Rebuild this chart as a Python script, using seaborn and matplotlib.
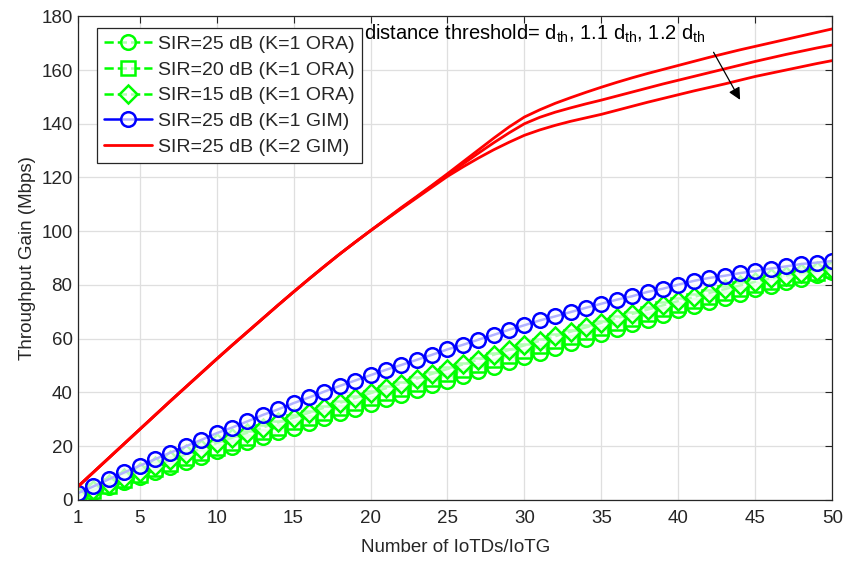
# -*- coding: utf-8 -*-

### Throughput gain vs number of IoTDs per IoTG ###

import seaborn as sns
import matplotlib
matplotlib.use("Agg")
import matplotlib.pyplot as plt
import numpy as np

sns.set_style('white')
plt.rcParams['font.family'] = ['Liberation Sans', 'DejaVu Sans']
plt.rcParams['mathtext.default'] = 'regular'

## Data ##

n_iotd = list(range(1, 51))

ora_sir25 = [0.8, 2.8, 4.7, 6.6, 8.5, 10.4, 12.3, 14.2, 16.1, 18.0,
             19.8, 21.6, 23.4, 25.2, 26.9, 28.7, 30.5, 32.2, 34.0, 35.7,
             37.4, 39.2, 40.9, 42.6, 44.4, 46.1, 47.9, 49.6, 51.3, 53.0,
             54.8, 56.5, 58.3, 60.0, 61.8, 63.5, 65.3, 67.0, 68.8, 70.5,
             72.1, 73.7, 75.2, 76.8, 78.3, 79.7, 81.0, 82.3, 83.6, 84.8]

ora_sir20 = [1.2, 3.3, 5.3, 7.4, 9.4, 11.4, 13.4, 15.4, 17.4, 19.4,
             21.3, 23.2, 25.1, 26.9, 28.8, 30.6, 32.4, 34.2, 36.0, 37.8,
             39.6, 41.3, 43.1, 44.9, 46.7, 48.4, 50.2, 52.0, 53.7, 55.5,
             57.2, 59.0, 60.7, 62.4, 64.1, 65.8, 67.5, 69.2, 70.9, 72.5,
             74.0, 75.5, 77.0, 78.4, 79.8, 81.1, 82.4, 83.6, 84.6, 85.5]

ora_sir15 = [1.5, 3.8, 6.0, 8.2, 10.4, 12.6, 14.8, 16.9, 19.1, 21.2,
             23.1, 25.0, 26.9, 28.8, 30.6, 32.4, 34.3, 36.1, 37.9, 39.7,
             41.5, 43.3, 45.1, 46.9, 48.7, 50.4, 52.2, 54.0, 55.8, 57.5,
             59.2, 60.9, 62.6, 64.2, 65.9, 67.6, 69.2, 70.8, 72.4, 74.0,
             75.5, 77.0, 78.4, 79.8, 81.2, 82.4, 83.5, 84.5, 85.3, 86.0]

gim_k1 = [2.5, 5.0, 7.7, 10.2, 12.7, 15.1, 17.6, 19.9, 22.3, 24.8,
          26.9, 29.2, 31.6, 33.7, 36.0, 38.1, 40.3, 42.4, 44.4, 46.4,
          48.4, 50.2, 52.1, 54.0, 56.0, 57.7, 59.6, 61.4, 63.3, 65.0,
          66.8, 68.3, 69.9, 71.5, 73.0, 74.5, 75.8, 77.4, 78.6, 80.1,
          81.5, 82.6, 83.4, 84.4, 85.2, 86.1, 86.9, 87.8, 88.3, 88.9]

gim_k2_dth = [5.0, 10.3, 15.6, 20.9, 26.2, 31.5, 36.8, 42.0, 47.2, 52.4,
              57.5, 62.5, 67.5, 72.5, 77.4, 82.2, 86.9, 91.5, 95.9, 100.2,
              104.5, 108.8, 112.9, 117.1, 121.4, 125.8, 130.2, 134.6, 138.8, 142.5,
              145.2, 147.6, 149.7, 151.7, 153.6, 155.4, 157.1, 158.7, 160.2, 161.7,
              163.2, 164.7, 166.1, 167.5, 168.8, 170.1, 171.4, 172.7, 174.0, 175.3]

gim_k2_11dth = [5.0, 10.3, 15.6, 20.9, 26.2, 31.5, 36.8, 42.0, 47.2, 52.4,
                57.5, 62.5, 67.5, 72.5, 77.4, 82.2, 86.9, 91.5, 95.9, 100.2,
                104.4, 108.6, 112.7, 116.9, 121.0, 125.0, 129.0, 132.9, 136.6, 140.0,
                142.4, 144.3, 145.9, 147.4, 148.8, 150.3, 151.8, 153.3, 154.8, 156.2,
                157.6, 159.0, 160.4, 161.8, 163.2, 164.5, 165.8, 167.0, 168.2, 169.3]

gim_k2_12dth = [5.0, 10.3, 15.6, 20.9, 26.2, 31.5, 36.8, 42.0, 47.2, 52.4,
                57.5, 62.5, 67.5, 72.5, 77.4, 82.2, 86.9, 91.5, 95.9, 100.2,
                104.3, 108.4, 112.4, 116.4, 120.4, 123.9, 127.2, 130.3, 133.1, 135.7,
                137.7, 139.4, 140.9, 142.2, 143.5, 145.0, 146.5, 148.0, 149.4, 150.8,
                152.2, 153.5, 154.8, 156.2, 157.6, 158.8, 160.0, 161.2, 162.4, 163.5]

x_ticks = [1, 5, 10, 15, 20, 25, 30, 35, 40, 45, 50]
y_ticks = list(range(0, 181, 20))

## Colors ##
green = '#00FF00'
blue = '#0000FF'
red = '#FF0000'
face = (1, 1, 1, 0.7)

## Plot ##
fig, ax = plt.subplots(figsize=(8.58, 5.61), dpi=100)
fig.subplots_adjust(left=0.091, right=0.970, top=0.971, bottom=0.109)

mk = dict(markersize=10.5, markeredgewidth=1.8, markerfacecolor=face, linewidth=1.8)

sns.lineplot(x=n_iotd, y=ora_sir25, ax=ax, color=green, marker='o', linestyle='--',
             markeredgecolor=green, label='SIR=25 dB (K=1 ORA)', **mk)
sns.lineplot(x=n_iotd, y=ora_sir20, ax=ax, color=green, marker='s', linestyle='--',
             markeredgecolor=green, label='SIR=20 dB (K=1 ORA)', **mk)
sns.lineplot(x=n_iotd, y=ora_sir15, ax=ax, color=green, marker='D', linestyle='--',
             markeredgecolor=green, label='SIR=15 dB (K=1 ORA)', **mk)
sns.lineplot(x=n_iotd, y=gim_k1, ax=ax, color=blue, marker='o',
             markeredgecolor=blue, label='SIR=25 dB (K=1 GIM)', **mk)
sns.lineplot(x=n_iotd, y=gim_k2_dth, ax=ax, color=red, linewidth=2.0,
             label='SIR=25 dB (K=2 GIM)')
sns.lineplot(x=n_iotd, y=gim_k2_11dth, ax=ax, color=red, linewidth=2.0)
sns.lineplot(x=n_iotd, y=gim_k2_12dth, ax=ax, color=red, linewidth=2.0)

# diamonds a bit smaller than circles
ax.lines[2].set_markersize(9.5)

ax.set_xlim(1, 50)
ax.set_ylim(0, 180)
ax.set_xticks(x_ticks)
ax.set_yticks(y_ticks)
ax.grid(True, color='#DFDFDF', linewidth=0.9)
ax.set_axisbelow(True)
ax.tick_params(direction='in', length=5, width=0.8, top=True, right=True,
               labelsize=13.5, colors='#262626')
ax.tick_params(axis='x', pad=7)
ax.tick_params(axis='y', pad=4)
for s in ax.spines.values():
    s.set_color('#262626')
    s.set_linewidth(0.9)

ax.set_xlabel('Number of IoTDs/IoTG', fontsize=13.5, color='#262626', labelpad=9)
ax.set_ylabel('Throughput Gain (Mbps)', fontsize=13.5, color='#262626', labelpad=4)

ax.text(19.6, 173.6, 'distance threshold= d$_{th}$, 1.1 d$_{th}$, 1.2 d$_{th}$',
        fontsize=14.5, color='black', va='center', ha='left')
ax.annotate('', xy=(44.1, 148.0), xytext=(42.2, 167.5),
            arrowprops=dict(arrowstyle='-|>', color='black', lw=0.9,
                            mutation_scale=18))

leg = ax.legend(loc='upper left', bbox_to_anchor=(0.025, 0.975), fontsize=14,
                frameon=True, fancybox=False, edgecolor='#262626', framealpha=1,
                handlelength=2.5, handletextpad=0.3, borderpad=0.35,
                labelspacing=0.42, borderaxespad=0)
leg.get_frame().set_linewidth(0.9)

plt.savefig('out.png', dpi=100)
